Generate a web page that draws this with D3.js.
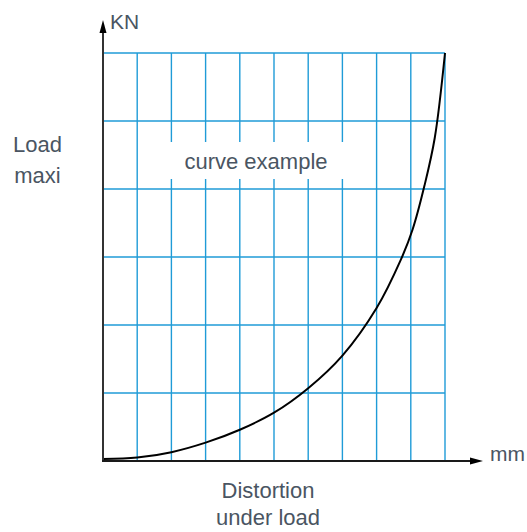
<!DOCTYPE html>
<html>
<head>
<meta charset="utf-8">
<script src="https://cdn.jsdelivr.net/npm/d3@7"></script>
<style>
  html, body { margin: 0; padding: 0; background: #fff; }
  svg { display: block; }
  text { font-family: "Liberation Sans", Arial, Helvetica, sans-serif; fill: #4a5562; }
</style>
</head>
<body>
<svg id="chart" width="527" height="532"></svg>
<script>
// Grid divisions along each axis
const distortionTicks = [0, 1, 2, 3, 4, 5, 6, 7, 8, 9, 10];
const loadTicks = [0, 1, 2, 3, 4, 5, 6];

// Load vs. distortion curve (grid units)
const distortion = [0, 1, 2, 3, 4, 5, 6, 7, 8, 8.7, 9.05, 9.4, 9.7, 10];
const load = [0.03, 0.05, 0.13, 0.27, 0.46, 0.71, 1.07, 1.55, 2.25, 2.95, 3.4, 4.05, 4.75, 6];

// Labels
const yUnit = "KN";
const xUnit = "mm";
const yTitle = ["Load", "maxi"];
const xTitle = ["Distortion", "under load"];
const curveLabel = "curve example";

const svg = d3.select("#chart");

const x = d3.scaleLinear().domain([0, 10]).range([103, 445]);
const y = d3.scaleLinear().domain([0, 6]).range([461, 53]);

const gridColor = "#1f9bd7";
const axisColor = "#1a1a1a";

// Grid
const grid = svg.append("g");
grid.selectAll("line.v")
  .data(distortionTicks.slice(1))
  .join("line")
  .attr("class", "v")
  .attr("x1", d => x(d)).attr("x2", d => x(d))
  .attr("y1", y(0)).attr("y2", y(6))
  .attr("stroke", gridColor).attr("stroke-width", 1.4);
grid.selectAll("line.h")
  .data(loadTicks.slice(1))
  .join("line")
  .attr("class", "h")
  .attr("x1", x(0)).attr("x2", x(10))
  .attr("y1", d => y(d)).attr("y2", d => y(d))
  .attr("stroke", gridColor).attr("stroke-width", 1.4);

// Label panel masking the grid behind the caption
svg.append("rect")
  .attr("x", 162).attr("y", 142)
  .attr("width", 190).attr("height", 37)
  .attr("fill", "#fff");
svg.append("text")
  .attr("x", 256).attr("y", 169)
  .attr("text-anchor", "middle")
  .attr("font-size", 22)
  .text(curveLabel);

// Curve
const line = d3.line()
  .x(d => x(d[0]))
  .y(d => y(d[1]))
  .curve(d3.curveCatmullRom.alpha(0.5));
svg.append("path")
  .datum(d3.zip(distortion, load))
  .attr("d", line)
  .attr("fill", "none")
  .attr("stroke", "#000")
  .attr("stroke-width", 2);

// Axes with arrowheads
svg.append("line")
  .attr("x1", x(0)).attr("x2", x(0))
  .attr("y1", y(0) + 1).attr("y2", 32)
  .attr("stroke", "#333").attr("stroke-width", 2);
svg.append("path")
  .attr("d", `M${x(0)},20 L${x(0) - 3.5},33 L${x(0) + 3.5},33 Z`)
  .attr("fill", "#000");
svg.append("line")
  .attr("x1", x(0) - 1).attr("x2", 471)
  .attr("y1", y(0)).attr("y2", y(0))
  .attr("stroke", axisColor).attr("stroke-width", 2);
svg.append("path")
  .attr("d", `M483,${y(0)} L470,${y(0) - 3.5} L470,${y(0) + 3.5} Z`)
  .attr("fill", "#000");

// Axis units
svg.append("text")
  .attr("x", 110).attr("y", 29)
  .attr("font-size", 21)
  .text(yUnit);
svg.append("text")
  .attr("x", 490).attr("y", y(0))
  .attr("font-size", 21)
  .text(xUnit);

// Axis titles
svg.append("text")
  .attr("text-anchor", "middle")
  .attr("font-size", 22)
  .selectAll("tspan")
  .data(yTitle)
  .join("tspan")
  .attr("x", 37.5)
  .attr("y", (d, i) => 152 + i * 31)
  .text(d => d);
svg.append("text")
  .attr("text-anchor", "middle")
  .attr("font-size", 22)
  .selectAll("tspan")
  .data(xTitle)
  .join("tspan")
  .attr("x", 268)
  .attr("y", (d, i) => 498 + i * 26.5)
  .text(d => d);
</script>
</body>
</html>
